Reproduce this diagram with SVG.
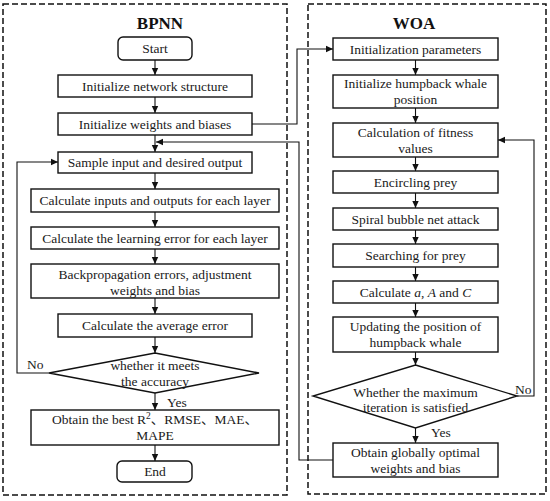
<svg xmlns="http://www.w3.org/2000/svg" width="550" height="501" viewBox="0 0 550 501">
<defs>
<marker id="ah" markerWidth="8" markerHeight="8" refX="7" refY="4" orient="auto" markerUnits="userSpaceOnUse">
<path d="M0,0.8 L7,4 L0,7.2 Z" fill="#111"/>
</marker>
<style>
.frame{fill:none;stroke:#111;stroke-width:1.5;stroke-dasharray:6,3}
.box{fill:#fff;stroke:#111;stroke-width:1.4}
.t{font-family:"Liberation Serif","Times New Roman","Noto Sans CJK SC",serif;font-size:13.5px;fill:#1a1a1a;text-anchor:middle}
.title{font-family:"Liberation Serif","Times New Roman",serif;font-size:17px;font-weight:bold;fill:#111;text-anchor:middle}
.lbl{font-family:"Liberation Serif","Times New Roman",serif;font-size:13.5px;fill:#1a1a1a}
.c{fill:none;stroke:#111;stroke-width:1.1}
</style>
</defs>
<rect width="550" height="501" fill="#fff"/>
<rect class="frame" x="3" y="4" width="284" height="491"/>
<rect class="frame" x="308" y="4" width="238" height="490"/>
<text class="title" x="160" y="29">BPNN</text>
<text class="title" x="414" y="29">WOA</text>

<g id="connectors">
<line class="c" x1="155" y1="60" x2="155" y2="75" marker-end="url(#ah)"/>
<line class="c" x1="155" y1="97" x2="155" y2="113" marker-end="url(#ah)"/>
<line class="c" x1="155" y1="135" x2="155" y2="152" marker-end="url(#ah)"/>
<line class="c" x1="155" y1="173" x2="155" y2="189" marker-end="url(#ah)"/>
<line class="c" x1="155" y1="212" x2="155" y2="227" marker-end="url(#ah)"/>
<line class="c" x1="155" y1="249" x2="155" y2="264" marker-end="url(#ah)"/>
<line class="c" x1="155" y1="298" x2="155" y2="314" marker-end="url(#ah)"/>
<line class="c" x1="155" y1="337" x2="155" y2="353" marker-end="url(#ah)"/>
<line class="c" x1="155" y1="393" x2="155" y2="410" marker-end="url(#ah)"/>
<line class="c" x1="155" y1="445" x2="155" y2="461" marker-end="url(#ah)"/>
<polyline class="c" points="49,373 17,373 17,162 58,162" marker-end="url(#ah)"/>
<polyline class="c" points="252,124 297,124 297,49 333,49" marker-end="url(#ah)"/>
<polyline class="c" points="333,460 299,460 299,142 156,142" marker-end="url(#ah)"/>
<line class="c" x1="415.5" y1="60" x2="415.5" y2="75" marker-end="url(#ah)"/>
<line class="c" x1="415.5" y1="108" x2="415.5" y2="123" marker-end="url(#ah)"/>
<line class="c" x1="415.5" y1="157" x2="415.5" y2="171" marker-end="url(#ah)"/>
<line class="c" x1="415.5" y1="193" x2="415.5" y2="208" marker-end="url(#ah)"/>
<line class="c" x1="415.5" y1="230" x2="415.5" y2="244" marker-end="url(#ah)"/>
<line class="c" x1="415.5" y1="267" x2="415.5" y2="281" marker-end="url(#ah)"/>
<line class="c" x1="415.5" y1="303" x2="415.5" y2="317" marker-end="url(#ah)"/>
<line class="c" x1="415.5" y1="352" x2="415.5" y2="365" marker-end="url(#ah)"/>
<line class="c" x1="415.5" y1="428" x2="415.5" y2="443" marker-end="url(#ah)"/>
<polyline class="c" points="517,396 534,396 534,140 498,140" marker-end="url(#ah)"/>
<text class="lbl" x="27" y="369">No</text>
<text class="lbl" x="167" y="407">Yes</text>
<text class="lbl" x="515" y="394">No</text>
<text class="lbl" x="431" y="437">Yes</text>
</g>

<g id="start"><rect class="box" x="118" y="37" width="74" height="23" rx="5"/><text class="t" x="155" y="53">Start</text></g>
<g id="init-net"><rect class="box" x="58" y="75" width="194" height="22"/><text class="t" x="155" y="90.5">Initialize network structure</text></g>
<g id="init-wb"><rect class="box" x="58" y="113" width="194" height="22"/><text class="t" x="155" y="128.5">Initialize weights and biases</text></g>
<g id="sample"><rect class="box" x="58" y="152" width="194" height="21"/><text class="t" x="155" y="167">Sample input and desired output</text></g>
<g id="calc-io"><rect class="box" x="31" y="189" width="248" height="23"/><text class="t" x="155" y="205">Calculate inputs and outputs for each layer</text></g>
<g id="calc-le"><rect class="box" x="31" y="227" width="248" height="22"/><text class="t" x="155" y="242.5">Calculate the learning error for each layer</text></g>
<g id="backprop"><rect class="box" x="31" y="264" width="248" height="34"/><text class="t" x="155" y="278.5">Backpropagation errors, adjustment</text><text class="t" x="155" y="294.5">weights and bias</text></g>
<g id="avg-err"><rect class="box" x="58" y="314" width="194" height="23"/><text class="t" x="155" y="330">Calculate the average error</text></g>
<g id="accuracy"><polygon class="box" points="155,353 259,373 155,393 49,373"/><text class="t" x="155" y="370">whether it meets</text><text class="t" x="155" y="386">the accuracy</text></g>
<g id="best"><rect class="box" x="31" y="410" width="248" height="35"/><text class="t" x="155" y="424">Obtain the best R<tspan font-size="9.5px" dy="-5">2</tspan><tspan dy="5">、RMSE、MAE、</tspan></text><text class="t" x="155" y="440">MAPE</text></g>
<g id="end"><rect class="box" x="117" y="461" width="75" height="21" rx="5"/><text class="t" x="155" y="476">End</text></g>

<g id="woa-init"><rect class="box" x="333" y="38" width="165" height="22"/><text class="t" x="415.5" y="53.5">Initialization parameters</text></g>
<g id="woa-pos"><rect class="box" x="333" y="75" width="165" height="33"/><text class="t" x="415.5" y="88">Initialize humpback whale</text><text class="t" x="415.5" y="104">position</text></g>
<g id="woa-fit"><rect class="box" x="333" y="123" width="165" height="34"/><text class="t" x="415.5" y="136.5">Calculation of fitness</text><text class="t" x="415.5" y="152.5">values</text></g>
<g id="woa-enc"><rect class="box" x="333" y="171" width="165" height="22"/><text class="t" x="415.5" y="186.5">Encircling prey</text></g>
<g id="woa-spiral"><rect class="box" x="333" y="208" width="165" height="22"/><text class="t" x="415.5" y="223.5">Spiral bubble net attack</text></g>
<g id="woa-search"><rect class="box" x="333" y="244" width="165" height="23"/><text class="t" x="415.5" y="260">Searching for prey</text></g>
<g id="woa-calc"><rect class="box" x="333" y="281" width="165" height="22"/><text class="t" x="415.5" y="296.5">Calculate <tspan font-style="italic">a</tspan>, <tspan font-style="italic">A</tspan> and <tspan font-style="italic">C</tspan></text></g>
<g id="woa-update"><rect class="box" x="333" y="317" width="165" height="35"/><text class="t" x="415.5" y="331">Updating the position of</text><text class="t" x="415.5" y="347">humpback whale</text></g>
<g id="woa-iter"><polygon class="box" points="415.5,365 517,396 415.5,428 313,396"/><text class="t" x="415.5" y="396.5">Whether the maximum</text><text class="t" x="415.5" y="411.5">iteration is satisfied</text></g>
<g id="woa-opt"><rect class="box" x="333" y="443" width="165" height="34"/><text class="t" x="415.5" y="456.5">Obtain globally optimal</text><text class="t" x="415.5" y="472.5">weights and bias</text></g>
</svg>
